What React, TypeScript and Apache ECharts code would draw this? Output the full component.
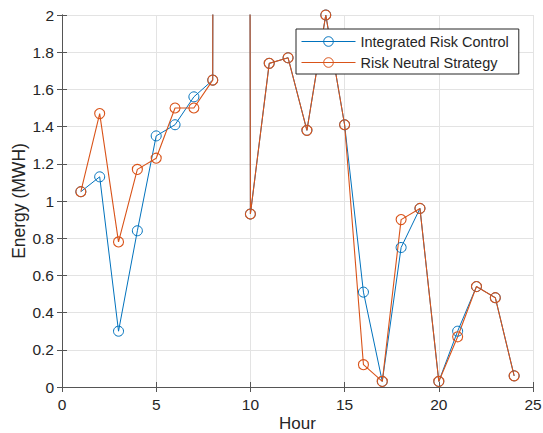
import React, { useEffect, useRef } from "react";
import * as echarts from "echarts";

const hours = [1, 2, 3, 4, 5, 6, 7, 8, 9, 10, 11, 12, 13, 14, 15, 16, 17, 18, 19, 20, 21, 22, 23, 24];
const integratedRiskControl = [1.05, 1.13, 0.30, 0.84, 1.35, 1.41, 1.56, 1.65, 60, 0.93, 1.74, 1.77, 1.38, 2.0, 1.41, 0.51, 0.03, 0.75, 0.96, 0.03, 0.30, 0.54, 0.48, 0.06];
const riskNeutralStrategy = [1.05, 1.47, 0.78, 1.17, 1.23, 1.50, 1.50, 1.65, 60, 0.93, 1.74, 1.77, 1.38, 2.0, 1.41, 0.12, 0.03, 0.90, 0.96, 0.03, 0.27, 0.54, 0.48, 0.06];
const seriesNames = ["Integrated Risk Control", "Risk Neutral Strategy"];
const xTicks = [0, 5, 10, 15, 20, 25];

const BLUE = "#0072BD";
const ORANGE = "#D95319";
const TEXT = "#262626";
const FONT = "'Liberation Sans', Arial, sans-serif";

export default function App() {
  const ref = useRef<HTMLDivElement>(null);
  useEffect(() => {
    if (!ref.current) return;
    const chart = echarts.init(ref.current, undefined, { renderer: "svg" });
    const mk = (name: string, vals: number[], color: string, w: number) => ({
      name,
      type: "line",
      data: hours.map((h, i) => [h, vals[i]]),
      symbol: "circle",
      symbolSize: 10,
      color,
      lineStyle: { color, width: w },
      itemStyle: { color: "rgba(0,0,0,0)", borderColor: color, borderWidth: w },
      clip: true,
      emphasis: { disabled: true },
    });
    const axisLine = { show: true, lineStyle: { color: "#555", width: 1 } };
    const tick = { show: true, inside: true, length: 5, lineStyle: { color: "#555" } };
    chart.setOption({
      animation: false,
      backgroundColor: "#fff",
      textStyle: { fontFamily: FONT },
      grid: { left: 62, top: 15, right: 10, bottom: 46, containLabel: false, outerBoundsMode: "none" },
      legend: {
        orient: "vertical",
        left: 296,
        top: 29,
        data: seriesNames,
        itemWidth: 54,
        itemHeight: 12,
        itemGap: 6,
        padding: [5, 10, 4, 5],
        borderColor: TEXT,
        borderWidth: 1,
        backgroundColor: "#fff",
        itemStyle: { borderWidth: 1 },
        lineStyle: { width: 1 },
        textStyle: { color: TEXT, fontSize: 14.5, fontFamily: FONT },
      },
      xAxis: [
        {
          type: "value",
          min: 0,
          max: 25,
          interval: 5,
          name: "Hour",
          nameLocation: "middle",
          nameGap: 26,
          nameMoveOverlap: false,
          nameTextStyle: { color: TEXT, fontSize: 17, lineHeight: 20, fontFamily: FONT },
          axisLine,
          axisTick: tick,
          axisLabel: { color: TEXT, fontSize: 15.5, margin: 9, fontFamily: FONT,
            formatter: (v: number) => (xTicks.includes(v) ? String(v) : "") },
          splitLine: { show: true, lineStyle: { color: "#e3e3e3", width: 1 } },
        },
        {
          type: "value",
          position: "top",
          min: 0,
          max: 25,
          interval: 5,
          axisLine,
          axisTick: tick,
          axisLabel: { show: false },
          splitLine: { show: false },
        },
      ],
      yAxis: [
        {
          type: "value",
          min: 0,
          max: 2,
          interval: 0.2,
          name: "Energy (MWH)",
          nameLocation: "middle",
          nameGap: 34,
          nameMoveOverlap: false,
          nameTextStyle: { color: TEXT, fontSize: 17.5, fontFamily: FONT },
          axisLine,
          axisTick: tick,
          axisLabel: { color: TEXT, fontSize: 15.5, margin: 8, fontFamily: FONT },
          splitLine: { show: true, lineStyle: { color: "#e3e3e3", width: 1 } },
        },
        {
          type: "value",
          position: "right",
          min: 0,
          max: 2,
          interval: 0.2,
          axisLine,
          axisTick: tick,
          axisLabel: { show: false },
          splitLine: { show: false },
        },
      ],
      series: [
        mk(seriesNames[0], integratedRiskControl, BLUE, 1),
        mk(seriesNames[1], riskNeutralStrategy, ORANGE, 1.1),
      ],
    });
    return () => chart.dispose();
  }, []);
  return <div ref={ref} style={{ width: 543, height: 433, position: "absolute", left: 0, top: 0 }} />;
}
